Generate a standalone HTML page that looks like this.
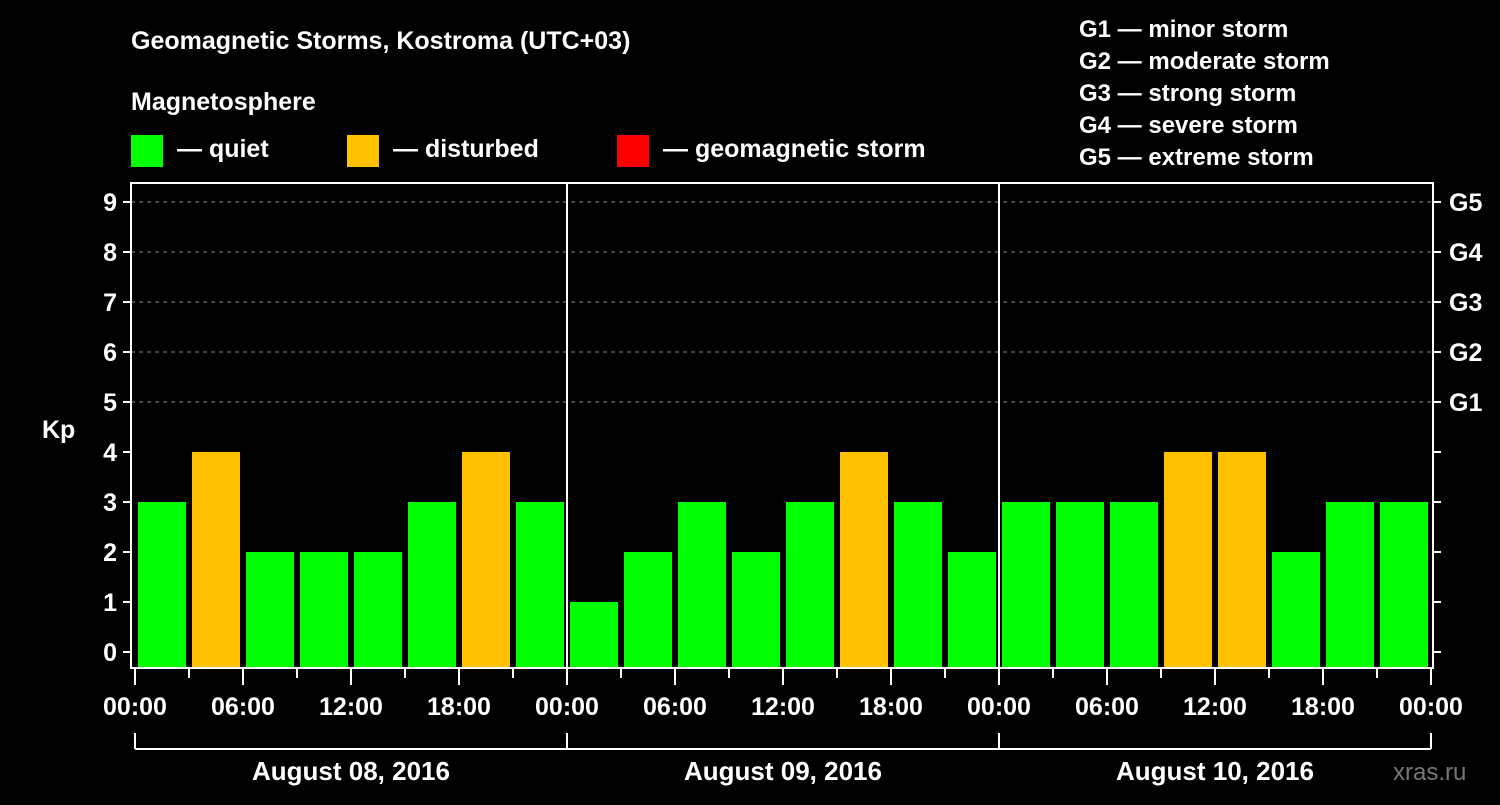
<!DOCTYPE html>
<html><head><meta charset="utf-8"><style>
body{margin:0;background:#000;width:1500px;height:800px;overflow:hidden}
text{font-family:"Liberation Sans",Arial,sans-serif;font-weight:bold;fill:#fff}
</style></head><body>
<svg id="chart" width="1500" height="800" xmlns="http://www.w3.org/2000/svg">
<rect width="1500" height="800" fill="#000"/>
<text x="131" y="49" font-size="25">Geomagnetic Storms, Kostroma (UTC+03)</text>
<text x="131" y="110" font-size="25">Magnetosphere</text>
<g>
<rect x="131" y="135" width="32" height="32" fill="#00ff00"/>
<text x="177" y="157" font-size="25">— quiet</text>
<rect x="347" y="135" width="32" height="32" fill="#ffc000"/>
<text x="393" y="157" font-size="25">— disturbed</text>
<rect x="617" y="135" width="32" height="32" fill="#ff0000"/>
<text x="663" y="157" font-size="25">— geomagnetic storm</text>
</g>
<g font-size="24">
<text x="1079" y="37">G1 — minor storm</text>
<text x="1079" y="69">G2 — moderate storm</text>
<text x="1079" y="101">G3 — strong storm</text>
<text x="1079" y="133">G4 — severe storm</text>
<text x="1079" y="165">G5 — extreme storm</text>
</g>
<text x="42" y="438" font-size="25">Kp</text>
<text x="1393" y="780" font-size="24" style="fill:#777;font-weight:normal">xras.ru</text>
<g id="grid"></g><g id="bars"></g><g id="axes"></g>
</svg>
<script>
const days=["August 08, 2016","August 09, 2016","August 10, 2016"];
const kpValues=[3,4,2,2,2,3,4,3, 1,2,3,2,3,4,3,2, 3,3,3,4,4,2,3,3];
const yTicks=[0,1,2,3,4,5,6,7,8,9];
const gLabels=["G1","G2","G3","G4","G5"];
const gLevels=[5,6,7,8,9];
const timeLabels=["00:00","06:00","12:00","18:00"];
const NS="http://www.w3.org/2000/svg";
const X0=135,DAYW=432,Y0=652,UNIT=50,PL=131,PR=1433,PT=183,PB=668;
const xs=i=>X0+i*(DAYW/8);
const ys=v=>Y0-v*UNIT;
function mk(p,tag,a){const e=document.createElementNS(NS,tag);for(const k in a)e.setAttribute(k,a[k]);p.appendChild(e);return e;}
const grid=document.getElementById('grid'),bars=document.getElementById('bars'),axes=document.getElementById('axes');
gLevels.forEach(v=>{const l=mk(grid,'line',{x1:PL,x2:PR,y1:ys(v),y2:ys(v),stroke:'#888','stroke-dasharray':'4,4','stroke-width':1});

});
kpValues.forEach((v,i)=>{const c=v>=5?'#ff0000':(v>=4?'#ffc000':'#00ff00');
const r=mk(bars,'rect',{x:xs(i)+3,y:ys(v),width:48,height:PB-ys(v),fill:c});

});
const fr=mk(axes,'rect',{x:PL,y:PT,width:PR-PL,height:PB-PT,fill:'none',stroke:'#fff','stroke-width':2});


for(let d=1;d<days.length;d++){const l=mk(axes,'line',{x1:X0+d*DAYW,x2:X0+d*DAYW,y1:PT,y2:PB,stroke:'#fff','stroke-width':2});

}
yTicks.forEach(v=>{mk(axes,'line',{x1:PL-8,x2:PL,y1:ys(v),y2:ys(v),stroke:'#fff','stroke-width':2});
mk(axes,'line',{x1:PR,x2:PR+8,y1:ys(v),y2:ys(v),stroke:'#fff','stroke-width':2});
const t=mk(axes,'text',{x:PL-14,y:ys(v)+9,'font-size':25,'text-anchor':'end'});t.textContent=v;

});
gLevels.forEach((v,i)=>{const t=mk(axes,'text',{x:1449,y:ys(v)+9,'font-size':25});t.textContent=gLabels[i];

});
for(let i=0;i<=days.length*8;i++){const maj=i%2==0;
mk(axes,'line',{x1:xs(i),x2:xs(i),y1:PB,y2:maj?PB+17:PB+10,stroke:'#fff','stroke-width':2});
if(maj){const t=mk(axes,'text',{x:xs(i),y:715,'font-size':25,'text-anchor':'middle'});t.textContent=timeLabels[(i/2)%4];

}}
mk(axes,'line',{x1:X0,x2:X0+days.length*DAYW,y1:749,y2:749,stroke:'#fff','stroke-width':2});
for(let d=0;d<=days.length;d++)mk(axes,'line',{x1:X0+d*DAYW,x2:X0+d*DAYW,y1:733,y2:749,stroke:'#fff','stroke-width':2});
days.forEach((s,d)=>{const t=mk(axes,'text',{x:X0+d*DAYW+DAYW/2,y:780,'font-size':26,'text-anchor':'middle'});t.textContent=s;

});
</script>
</body></html>
